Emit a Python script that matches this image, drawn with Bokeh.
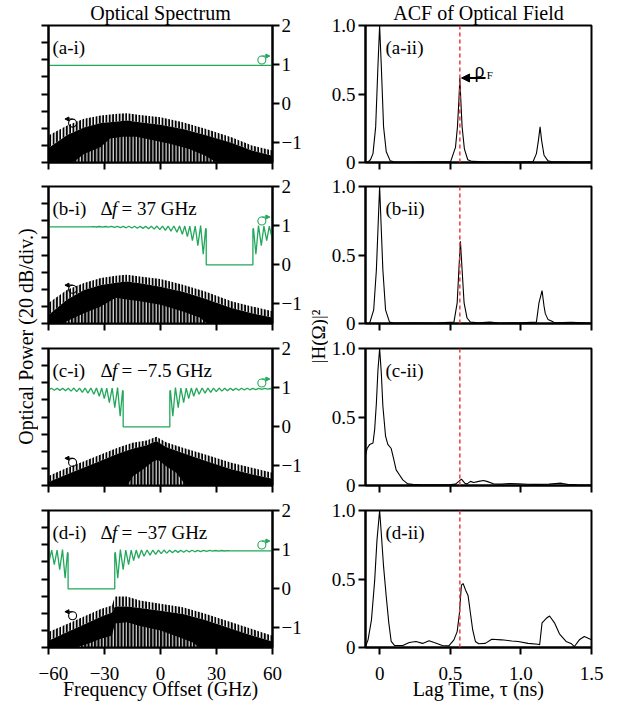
import numpy as np
from bokeh.plotting import figure
from bokeh.layouts import row, column
from bokeh.models import Range1d, LinearAxis, FixedTicker, Span, Label, Arrow, NormalHead, Title
from bokeh.embed import file_html
from bokeh.resources import INLINE

FONT = "Liberation Serif"
GREEN = "#21a85a"
RED = "#ee3b3b"

# ---------------- data: optical spectra (dB, 20 dB/div) ----------------
spec_freq_a = [-60, -50, -41, -32, -23, -18, -11, 0, 12, 24, 38, 49, 60]
spec_tip_a = [-128.5, -116.8, -109, -105.1, -103.2, -102.4, -104.4, -107.1, -112.9, -120.7, -130.4, -140.2, -146]
spec_body_a = [-143, -128, -119, -114, -112, -111, -113, -116, -121, -128, -137, -146, -152]
trough_freq_a = [-60, -47, -41, -32, -27, -20, -13, -4, 5, 15, 24, 30, 60]
trough_db_a = [-160, -160, -150, -142, -132, -130, -130, -134, -138, -144, -152, -160, -160]

spec_freq_b = [-60, -50, -41, -32, -23, -18, -11, 0, 12, 24, 38, 49, 60]
spec_tip_b = [-136, -120.6, -112.8, -107, -104, -103.2, -105, -108, -114.8, -122.5, -134, -140, -145.7]
spec_body_b = [-150, -132, -121, -115, -112, -111, -113, -117, -123, -131, -142, -148, -153]
trough_freq_b = [-60, -52, -50, -41, -32, -24, -18, -11, 0, 12, 21, 25, 60]
trough_db_b = [-160, -160, -157, -148, -140, -130, -132, -134, -138, -146, -153, -160, -160]

spec_freq_c = [-60, -50, -41, -32, -23, -15, -7.5, -2.2, 3, 12, 24, 38, 49, 60]
spec_tip_c = [-149, -139.3, -131.6, -123.8, -116, -110, -107.4, -103.1, -109.4, -116, -123.8, -133.5, -139.3, -145.2]
spec_body_c = [-156, -147, -139, -131, -123, -117, -113, -108, -115, -122, -131, -141, -147, -152]
trough_freq_c = [-60, -18, -14.6, -9.3, -4, -1.3, 3, 8.4, 13.7, 60]
trough_db_c = [-160, -160, -149, -141, -132, -130, -137.5, -145, -160, -160]

spec_freq_d = [-60, -50, -41, -32, -26, -24.4, -18, -11, 0, 12, 24, 38, 49, 60]
spec_tip_d = [-142, -132.5, -123.9, -114.9, -111, -100.4, -100.4, -105, -109, -113, -120.7, -130.6, -138.4, -146.2]
spec_body_d = [-152, -142, -133, -124, -119, -112, -112, -114, -117, -121, -128, -138, -146, -153]
trough_freq_d = [-60, -45.5, -39.3, -32.3, -26, -24.4, -18, -11, 0, 10, 17, 21, 60]
trough_db_d = [-160, -160, -156, -150, -146, -132, -130.5, -135, -140, -148, -154, -160, -160]

# ---------------- data: filter |H|^2 ----------------
flat_freq = [-60, 60]
flat_gain = [0.98, 0.98]
delta_f = [37.0, -7.5, -37.0]          # notch centres for (b), (c), (d)
delta_f_text = ["= 37 GHz", "= \u22127.5 GHz", "= \u221237 GHz"]
notch_half_width = 12.5
ripple_dist = [0.0, 0.3, 1.6, 3.0, 4.5, 5.9, 7.4, 8.8, 10.1, 11.5,
               12.8, 14.3, 15.7, 17.3, 18.9, 20.4, 21.9, 23.4, 24.9, 26.4,
               27.9, 29.4, 30.9, 32.4, 33.9, 35.4, 36.9, 38.4, 39.9, 41.4,
               42.9, 44.4, 46.0, 47.6, 49.2, 50.8, 52.4, 54.0, 55.6, 57.2,
               58.8, 60.4, 62.0, 100.0]
ripple_gain = [0.90, 0.93, 0.27, 1.00, 0.49, 0.99, 0.62, 0.99, 0.72, 0.99,
               0.78, 0.99, 0.83, 0.99, 0.86, 0.99, 0.88, 0.99, 0.90, 0.99,
               0.91, 0.985, 0.92, 0.985, 0.93, 0.985, 0.935, 0.985, 0.94, 0.985,
               0.945, 0.98, 0.95, 0.98, 0.955, 0.98, 0.96, 0.978, 0.962, 0.978,
               0.965, 0.977, 0.967, 0.972]

# ---------------- data: ACF of optical field ----------------
acf_tau_a = [-0.1, -0.082, -0.065, -0.047, -0.028, -0.012, 0.0, 0.012, 0.028, 0.047, 0.075, 0.1,
             0.2, 0.3, 0.4, 0.502, 0.537, 0.551, 0.561, 0.568, 0.575, 0.584, 0.6, 0.624, 0.654,
             0.75, 0.85, 0.95, 1.05, 1.086, 1.11, 1.124, 1.136, 1.147, 1.164, 1.192, 1.22, 1.3, 1.4, 1.5]
acf_val_a = [0.0, 0.005, 0.02, 0.065, 0.26, 0.70, 1.0, 0.70, 0.26, 0.078, 0.012, 0.006,
             0.004, 0.006, 0.005, 0.005, 0.11, 0.26, 0.45, 0.617, 0.45, 0.26, 0.10, 0.02, 0.008,
             0.005, 0.006, 0.004, 0.006, 0.005, 0.065, 0.16, 0.26, 0.16, 0.053, 0.012, 0.005, 0.006, 0.004, 0.005]

acf_tau_b = [-0.1, -0.07, -0.042, -0.023, -0.012, 0.0, 0.012, 0.023, 0.042, 0.07, 0.1, 0.25, 0.4,
             0.526, 0.549, 0.561, 0.572, 0.584, 0.598, 0.619, 0.643, 0.7, 0.78, 0.85, 1.0,
             1.11, 1.128, 1.15, 1.164, 1.173, 1.192, 1.22, 1.238, 1.355, 1.5]
acf_val_b = [0.0, 0.004, 0.10, 0.39, 0.68, 1.0, 0.68, 0.39, 0.10, 0.01, 0.004, 0.005, 0.004,
             0.01, 0.15, 0.39, 0.60, 0.39, 0.15, 0.04, 0.01, 0.005, 0.01, 0.004, 0.005,
             0.01, 0.15, 0.24, 0.126, 0.072, 0.03, 0.017, 0.005, 0.008, 0.004]

acf_tau_c = [-0.1, -0.089, -0.07, -0.047, -0.035, -0.023, -0.012, 0.0, 0.012, 0.023, 0.042, 0.058,
             0.082, 0.098, 0.117, 0.14, 0.164, 0.199, 0.234, 0.3, 0.4, 0.49, 0.537, 0.561, 0.579,
             0.603, 0.619, 0.643, 0.666, 0.701, 0.736, 0.759, 0.806, 0.864, 0.92, 0.981, 1.05, 1.1,
             1.2, 1.285, 1.33, 1.4, 1.5]
acf_val_c = [0.22, 0.27, 0.30, 0.31, 0.41, 0.60, 0.84, 1.0, 0.82, 0.58, 0.36, 0.30,
             0.27, 0.20, 0.114, 0.078, 0.041, 0.012, 0.008, 0.006, 0.005, 0.005, 0.01, 0.03, 0.046,
             0.017, 0.012, 0.03, 0.022, 0.03, 0.036, 0.03, 0.012, 0.01, 0.014, 0.012, 0.009, 0.008,
             0.01, 0.017, 0.008, 0.005, 0.004]

acf_tau_d = [-0.1, -0.082, -0.058, -0.035, -0.019, 0.0, 0.012, 0.028, 0.047, 0.065, 0.082, 0.105,
             0.164, 0.21, 0.257, 0.304, 0.35, 0.386, 0.444, 0.49, 0.526, 0.549, 0.565, 0.579, 0.591,
             0.612, 0.626, 0.643, 0.659, 0.678, 0.701, 0.748, 0.794, 0.864, 0.935, 0.981, 1.051,
             1.121, 1.133, 1.15, 1.18, 1.203, 1.238, 1.273, 1.32, 1.355, 1.379, 1.414, 1.449, 1.5]
acf_val_d = [0.007, 0.056, 0.2, 0.49, 0.78, 1.0, 0.83, 0.59, 0.37, 0.18, 0.044, 0.015,
             0.015, 0.036, 0.044, 0.03, 0.05, 0.036, 0.015, 0.012, 0.056, 0.116, 0.25, 0.455, 0.467,
             0.41, 0.38, 0.25, 0.128, 0.044, 0.027, 0.03, 0.06, 0.056, 0.048, 0.044, 0.03,
             0.024, 0.02, 0.18, 0.213, 0.23, 0.18, 0.10, 0.044, 0.03, 0.007, 0.056, 0.08, 0.056]

rho_f_tau = 0.568
rho_f_val = 0.617

col_titles = ["Optical Spectrum", "ACF of Optical Field"]
side_labels = ["Optical Power (20 dB/div.)", "|H(\u03a9)|\u00b2"]
panel_left = ["(a-i)", "(b-i)", "(c-i)", "(d-i)"]
panel_right = ["(a-ii)", "(b-ii)", "(c-ii)", "(d-ii)"]
spectra = [(spec_freq_a, spec_tip_a, spec_body_a, trough_freq_a, trough_db_a),
           (spec_freq_b, spec_tip_b, spec_body_b, trough_freq_b, trough_db_b),
           (spec_freq_c, spec_tip_c, spec_body_c, trough_freq_c, trough_db_c),
           (spec_freq_d, spec_tip_d, spec_body_d, trough_freq_d, trough_db_d)]
acfs = [(acf_tau_a, acf_val_a), (acf_tau_b, acf_val_b), (acf_tau_c, acf_val_c), (acf_tau_d, acf_val_d)]

# ---------------- layout constants (pixels) ----------------
TOPS = [25, 12, 13, 13]
BOTS = [12, 12, 12, 58]
FRAME_H = 137
HEIGHTS = [t + FRAME_H + b for t, b in zip(TOPS, BOTS)]
COL_H = sum(HEIGHTS)
LW, RW = 266, 277
STRIP_L, STRIP_M = 38, 24
SYM_DB = [-114, -120, -133, -123]


def no_grid(p):
    for g in p.grid:
        g.visible = False


def style_axis(ax, labels=True, size="19px"):
    ax.axis_line_width = 2
    ax.axis_line_color = "black"
    ax.major_tick_line_width = 2
    ax.major_tick_line_color = "black"
    ax.major_tick_in = 0
    ax.major_tick_out = 7
    ax.minor_tick_line_color = None
    ax.major_label_text_font = FONT
    if labels:
        ax.major_label_text_color = "black"
        ax.major_label_text_font_size = size
        ax.major_label_standoff = 12
    else:
        ax.major_label_text_color = None
        ax.major_label_text_font_size = "0px"
        ax.major_label_standoff = 0
    ax.axis_label_text_font = FONT
    ax.axis_label_text_font_style = "normal"
    ax.axis_label_text_font_size = "20px"
    ax.axis_label_text_color = "black"
    ax.axis_label_standoff = -5


def base_fig(w, h, xr, yr, mbl, mbr, mbt, mbb, title=None):
    p = figure(width=w, height=h, x_range=xr, y_range=yr, output_backend="svg", title=None,
               toolbar_location=None, x_axis_location=None, y_axis_location=None,
               min_border_left=mbl, min_border_right=mbr, min_border_top=mbt, min_border_bottom=mbb)
    no_grid(p)
    if title is not None:
        p.add_layout(Title(text=title, align="center", vertical_align="top", standoff=0,
                           text_font=FONT, text_font_size="20px", text_font_style="normal",
                           text_color="black"), "above")
    p.outline_line_color = "black"
    p.outline_line_width = 2
    p.background_fill_color = "white"
    p.border_fill_color = "white"
    return p


def add_text_label(p, text, xo, yo, x, y, style="normal", size="19px"):
    p.add_layout(Label(x=x, y=y, x_offset=xo, y_offset=yo, text=text, text_font=FONT,
                       text_font_size=size, text_font_style=style, text_baseline="alphabetic",
                       text_color="black"))


def left_panel(i):
    p = base_fig(LW, HEIGHTS[i], Range1d(-60, 60), Range1d(-160, 0), 10, 30, TOPS[i], BOTS[i],
                 title=col_titles[0] if i == 0 else None)
    p.extra_y_ranges = {"h": Range1d(-1.5, 2.0)}
    last = i == 3
    ax = LinearAxis(ticker=FixedTicker(ticks=list(range(-160, 1, 20))))
    style_axis(ax, labels=False)
    p.add_layout(ax, "left")
    axr = LinearAxis(y_range_name="h", ticker=FixedTicker(ticks=[-1, 0, 1, 2]),
                     major_label_overrides={-1: "\u22121", 0: "0", 1: "1", 2: "2"})
    style_axis(axr)
    axr.major_label_standoff = 2
    p.add_layout(axr, "right")
    axb = LinearAxis(ticker=FixedTicker(ticks=[-60, -30, 0, 30, 60]),
                     major_label_overrides={-60: "\u221260", -30: "\u221230", 0: "0", 30: "30", 60: "60"})
    style_axis(axb, labels=last)
    if last:
        axb.axis_label = "Frequency Offset (GHz)"
    p.add_layout(axb, "below")

    f, tip, body, tf, tdb = spectra[i]
    p.varea(x=f, y1=-160, y2=body, fill_color="black", fill_alpha=1.0)
    p.varea(x=f, y1=body, y2=tip, fill_alpha=0, hatch_pattern="|", hatch_color="black",
            hatch_scale=3.3, hatch_weight=2.4)
    p.varea(x=tf, y1=-160, y2=tdb, fill_alpha=0, hatch_pattern="|", hatch_color="white",
            hatch_scale=3.3, hatch_weight=1.0)

    if i == 0:
        gx, gy = flat_freq, flat_gain
    else:
        c = delta_f[i - 1]
        d = np.array(ripple_dist)
        g = np.array(ripple_gain)
        gx = np.concatenate([c - notch_half_width - d[::-1], [c - notch_half_width, c + notch_half_width],
                             c + notch_half_width + d])
        gy = np.concatenate([g[::-1], [0.0, 0.0], g])
    p.line(gx, gy, y_range_name="h", line_color=GREEN, line_width=1.3)

    # axis indicator loops
    p.scatter([54.3], [1.12], y_range_name="h", marker="circle", size=8, fill_color=None,
              line_color=GREEN, line_width=1.1)
    p.add_layout(Arrow(x_start=54.3, y_start=1.22, x_end=58.6, y_end=1.22, y_range_name="h",
                       line_color=GREEN, line_width=1.1,
                       end=NormalHead(size=4, fill_color=GREEN, line_color=GREEN)))
    p.scatter([-47.1], [SYM_DB[i]], marker="circle", size=8, fill_color=None,
              line_color="black", line_width=1.1)
    p.add_layout(Arrow(x_start=-47.1, y_start=SYM_DB[i] + 4.8, x_end=-51.2, y_end=SYM_DB[i] + 4.8,
                       line_color="black", line_width=1.1,
                       end=NormalHead(size=4, fill_color="black", line_color="black")))

    add_text_label(p, panel_left[i], 4, -22, -60, 0)
    if i > 0:
        add_text_label(p, "\u0394", 52, -22, -60, 0)
        add_text_label(p, "f", 63.5, -22, -60, 0, style="italic")
        add_text_label(p, delta_f_text[i - 1], 73, -22, -60, 0)
    return p


def right_panel(i):
    p = base_fig(RW, HEIGHTS[i], Range1d(-0.1, 1.5), Range1d(0, 1.0), 34, 14, TOPS[i], BOTS[i],
                 title=col_titles[1] if i == 0 else None)
    last = i == 3
    ax = LinearAxis(ticker=FixedTicker(ticks=[0, 0.5, 1.0]),
                    major_label_overrides={0: "0", 0.5: "0.5", 1: "1.0"})
    style_axis(ax)
    ax.major_label_standoff = 3
    p.add_layout(ax, "left")
    axb = LinearAxis(ticker=FixedTicker(ticks=[0, 0.5, 1.0, 1.5]),
                     major_label_overrides={0: "0", 0.5: "0.5", 1: "1.0", 1.5: "1.5"})
    style_axis(axb, labels=last)
    if last:
        axb.axis_label = "Lag Time, \u03c4 (ns)"
    p.add_layout(axb, "below")

    tau, val = acfs[i]
    p.line(tau, val, line_color="black", line_width=1.1)
    p.add_layout(Span(location=rho_f_tau, dimension="height", line_color=RED,
                      line_dash="4 3", line_width=1.5))
    add_text_label(p, panel_right[i], 20, -22, -0.1, 1.0)
    if i == 0:
        p.add_layout(Arrow(x_start=0.75, y_start=rho_f_val, x_end=rho_f_tau + 0.012, y_end=rho_f_val,
                           line_color="black", line_width=2,
                           end=NormalHead(size=8, fill_color="black", line_color="black")))
        p.add_layout(Label(x=0.672, y=0.672, text="\u03c1", text_font=FONT, text_font_size="20px",
                           text_baseline="alphabetic", text_color="black"))
        p.add_layout(Label(x=0.758, y=0.636, text="F", text_font=FONT, text_font_size="11px",
                           text_baseline="alphabetic", text_color="black"))
    return p


def label_strip(w, text, size, standoff):
    # a 1-px-wide invisible frame at the right edge; its left axis carries the shared label
    s = figure(width=w, height=COL_H, x_range=Range1d(0, 1), y_range=Range1d(0, 1),
               output_backend="svg", title=None, toolbar_location=None,
               x_axis_location=None, y_axis_location=None,
               min_border_left=w - 1, min_border_right=0, min_border_top=TOPS[0],
               min_border_bottom=BOTS[3])
    no_grid(s)
    s.outline_line_color = None
    s.background_fill_color = "white"
    s.border_fill_color = "white"
    ax = LinearAxis(ticker=FixedTicker(ticks=[]), axis_label=text)
    ax.axis_line_color = None
    ax.major_tick_line_color = None
    ax.minor_tick_line_color = None
    ax.major_tick_out = 0
    ax.major_tick_in = 0
    ax.major_label_text_color = None
    ax.major_label_text_font_size = "0px"
    ax.major_label_standoff = 0
    ax.axis_label_text_font = FONT
    ax.axis_label_text_font_style = "normal"
    ax.axis_label_text_font_size = size
    ax.axis_label_text_color = "black"
    ax.axis_label_standoff = standoff
    s.add_layout(ax, "left")
    return s


left_strip = label_strip(STRIP_L, side_labels[0], "20px", 1)
mid_strip = label_strip(STRIP_M, side_labels[1], "19px", 0)

lefts = column([left_panel(i) for i in range(4)], spacing=0)
rights = column([right_panel(i) for i in range(4)], spacing=0)
layout = row([left_strip, lefts, mid_strip, rights], spacing=0)

open("out.html", "w").write(file_html(layout, INLINE))
